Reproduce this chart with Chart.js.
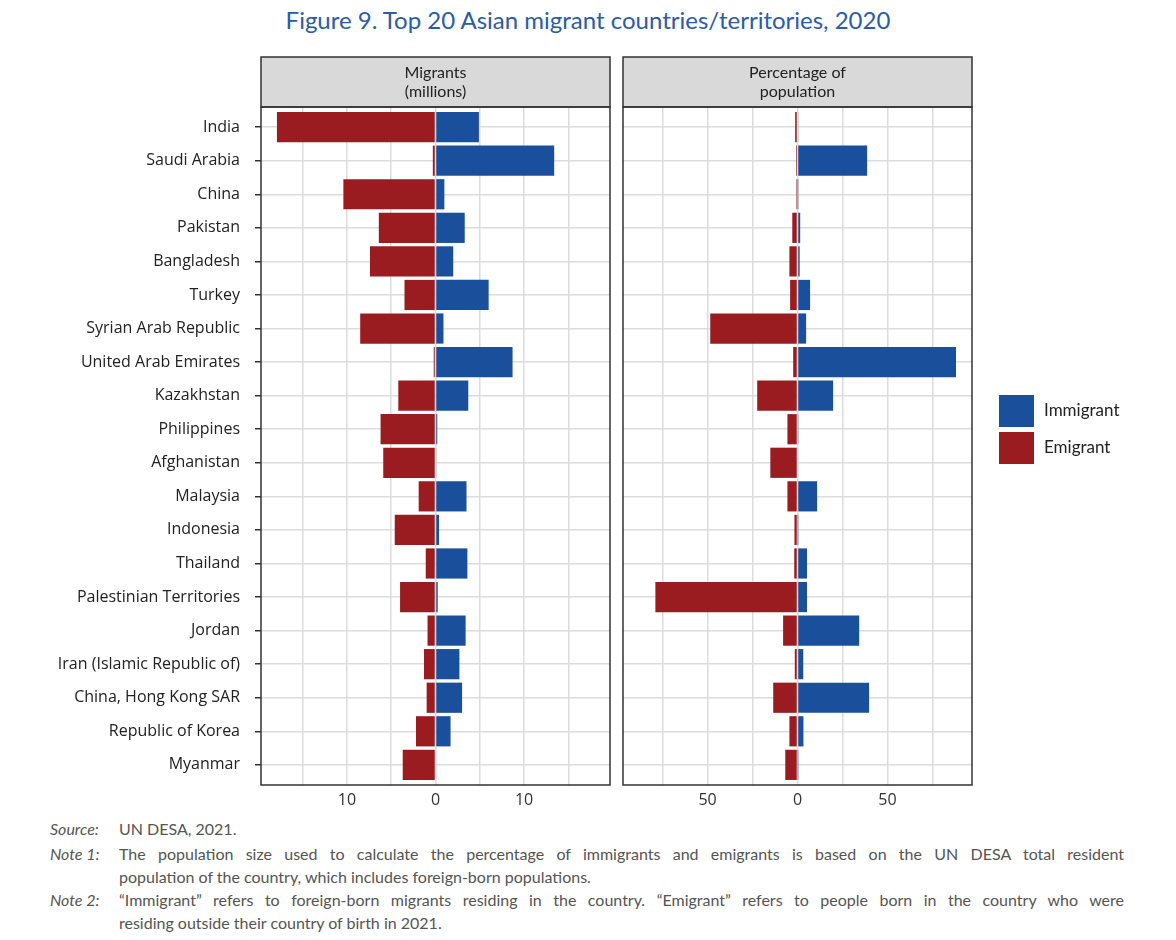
<!DOCTYPE html>
<html>
<head>
<meta charset="utf-8">
<script src="https://cdn.jsdelivr.net/npm/chart.js@4.4.1/dist/chart.umd.min.js"></script>
<style>
  body { margin: 0; background: #fff; }
  #wrap { position: relative; width: 1176px; height: 940px; }
  #title { position: absolute; top: 5px; left: 0; width: 1176px; text-align: center;
           font: 24px Lato, sans-serif; color: #2a5ca8; }
  #c1 { position: absolute; left: 0; top: 0; }
  #c2 { position: absolute; left: 615px; top: 0; }
  .note { position: absolute; left: 50px; width: 1074px; font: 16px/23px Lato, sans-serif; color: #555; }
  .note .lab { position: absolute; left: 0; top: 0; font-style: italic; }
  .note .txt { margin-left: 69px; }
  .j { text-align: justify; text-align-last: justify; }
</style>
</head>
<body>
<div id="wrap">
  <div id="title">Figure 9. Top 20 Asian migrant countries/territories, 2020</div>
  <canvas id="c1" width="617" height="815"></canvas>
  <canvas id="c2" width="561" height="815"></canvas>
  <div class="note" style="top:817px"><span class="lab">Source:</span><div class="txt">UN DESA, 2021.</div></div>
  <div class="note" style="top:842px"><span class="lab">Note 1:</span><div class="txt">
    <div class="j">The population size used to calculate the percentage of immigrants and emigrants is based on the UN DESA total resident</div>
    <div>population of the country, which includes foreign-born populations.</div></div></div>
  <div class="note" style="top:888px"><span class="lab">Note 2:</span><div class="txt">
    <div class="j">“Immigrant” refers to foreign-born migrants residing in the country. “Emigrant” refers to people born in the country who were</div>
    <div>residing outside their country of birth in 2021.</div></div></div>
</div>
<script>
var countries = ['India', 'Saudi Arabia', 'China', 'Pakistan', 'Bangladesh', 'Turkey',
  'Syrian Arab Republic', 'United Arab Emirates', 'Kazakhstan', 'Philippines', 'Afghanistan',
  'Malaysia', 'Indonesia', 'Thailand', 'Palestinian Territories', 'Jordan',
  'Iran (Islamic Republic of)', 'China, Hong Kong SAR', 'Republic of Korea', 'Myanmar'];

// millions
var immigrantMillions = [4.9, 13.4, 1.0, 3.3, 2.0, 6.0, 0.9, 8.7, 3.7, 0.2, 0.1, 3.5, 0.4, 3.6, 0.25, 3.4, 2.7, 3.0, 1.7, 0.08];
var emigrantMillions = [17.9, 0.3, 10.4, 6.4, 7.4, 3.5, 8.5, 0.2, 4.2, 6.2, 5.9, 1.9, 4.6, 1.1, 4.0, 0.9, 1.3, 1.0, 2.2, 3.7];

// percentage of population
var immigrantPercent = [0.35, 38.7, 0.07, 1.5, 1.2, 7.0, 4.8, 88.1, 19.8, 0.2, 0.4, 10.9, 0.1, 5.3, 5.3, 34.3, 3.2, 39.8, 3.3, 0.1];
var emigrantPercent = [1.3, 0.8, 0.7, 2.9, 4.5, 4.1, 48.5, 2.4, 22.4, 5.6, 15.1, 5.6, 1.7, 1.8, 79, 8.0, 1.5, 13.5, 4.5, 6.8];

var migrantTicks = [-10, 0, 10];
var percentTicks = [-50, 0, 50];

var blue = '#1a4f9b';
var red = '#9a1c21';

// grey facet strip above the panel + dark frame round it
var stripPlugin = {
  id: 'strip',
  afterDraw: function(chart, args, opts) {
    var a = chart.chartArea, ctx = chart.ctx;
    var w = a.right - a.left;
    ctx.save();
    ctx.fillStyle = '#d9d9d9';
    ctx.fillRect(a.left, a.top - 50, w, 50);
    ctx.strokeStyle = '#333';
    ctx.lineWidth = 1.5;
    ctx.strokeRect(a.left, a.top - 50, w, 50);
    ctx.strokeRect(a.left, a.top, w, a.bottom - a.top);
    ctx.fillStyle = '#222';
    ctx.font = '16px Lato';
    ctx.textAlign = 'center';
    ctx.textBaseline = 'middle';
    var mid = (a.left + a.right) / 2;
    ctx.fillText(opts.lines[0], mid, a.top - 34.5);
    ctx.fillText(opts.lines[1], mid, a.top - 15.5);
    ctx.restore();
  }
};

var legendPlugin = {
  id: 'sideLegend',
  afterDraw: function(chart) {
    var a = chart.chartArea, ctx = chart.ctx;
    var y0 = (a.top + a.bottom) / 2 - 51;
    ctx.save();
    chart.data.datasets.forEach(function(ds, i) {
      var top = y0 + i * 37;
      ctx.fillStyle = ds.backgroundColor;
      ctx.fillRect(a.right + 27, top, 35, 32);
      ctx.fillStyle = '#222';
      ctx.font = '17px Lato';
      ctx.textAlign = 'left';
      ctx.textBaseline = 'middle';
      ctx.fillText(ds.label, a.right + 72, top + 16);
    });
    ctx.restore();
  }
};

function makeChart(id, imm, emi, range, step, labelTicks, lines, isLeft, plugins, padRight) {
  return new Chart(document.getElementById(id).getContext('2d'), {
    type: 'bar',
    data: {
      datasets: [{
        label: 'Immigrant',
        data: imm.map(function(v, i) { return { x: v, y: i }; }),
        backgroundColor: blue,
        categoryPercentage: 0.9,
        barPercentage: 1
      }, {
        label: 'Emigrant',
        data: emi.map(function(v, i) { return { x: -v, y: i }; }),
        backgroundColor: red,
        categoryPercentage: 0.9,
        barPercentage: 1
      }]
    },
    options: {
      indexAxis: 'y',
      responsive: false,
      animation: false,
      layout: { padding: { top: 107, right: padRight, left: 0, bottom: 0 } },
      plugins: {
        legend: { display: false },
        tooltip: { enabled: false },
        strip: { lines: lines }
      },
      scales: {
        x: {
          type: 'linear', stacked: true, min: -range, max: range, bounds: 'data',
          afterBuildTicks: function(s) {
            var t = [];
            for (var v = -Math.floor(range / step) * step; v <= range; v += step) t.push({ value: v });
            s.ticks = t;
          },
          ticks: {
            autoSkip: false, maxRotation: 0, padding: 6, color: '#333',
            font: { family: 'Open Sans', size: 16 },
            callback: function(v) { return labelTicks.indexOf(v) >= 0 ? String(Math.abs(v)) : ''; }
          },
          grid: { color: '#dcdcdc', lineWidth: 1.5, drawTicks: false },
          border: { display: false },
          afterFit: function(s) { s.height = 30; }
        },
        y: {
          type: 'linear', stacked: true, reverse: true, bounds: 'data', offset: false,
          min: -0.6, max: countries.length - 0.4,
          afterBuildTicks: function(s) {
            s.ticks = countries.map(function(c, i) { return { value: i }; });
          },
          ticks: {
            display: isLeft, autoSkip: false, padding: 15, color: '#222',
            font: { family: 'Open Sans', size: 16 },
            callback: function(v) { return countries[v]; }
          },
          grid: { offset: false, color: '#dcdcdc', lineWidth: 1.5, drawTicks: isLeft, tickLength: 6, tickColor: '#333', tickWidth: 1.5 },
          border: { display: false },
          afterFit: function(s) { s.width = isLeft ? 261 : 8; }
        }
      }
    },
    plugins: plugins
  });
}

makeChart('c1', immigrantMillions, emigrantMillions, 19.7, 5, migrantTicks,
  ['Migrants', '(millions)'], true, [stripPlugin], 7);
makeChart('c2', immigrantPercent, emigrantPercent, 97, 25, percentTicks,
  ['Percentage of', 'population'], false, [stripPlugin, legendPlugin], 204);
</script>
</body>
</html>
